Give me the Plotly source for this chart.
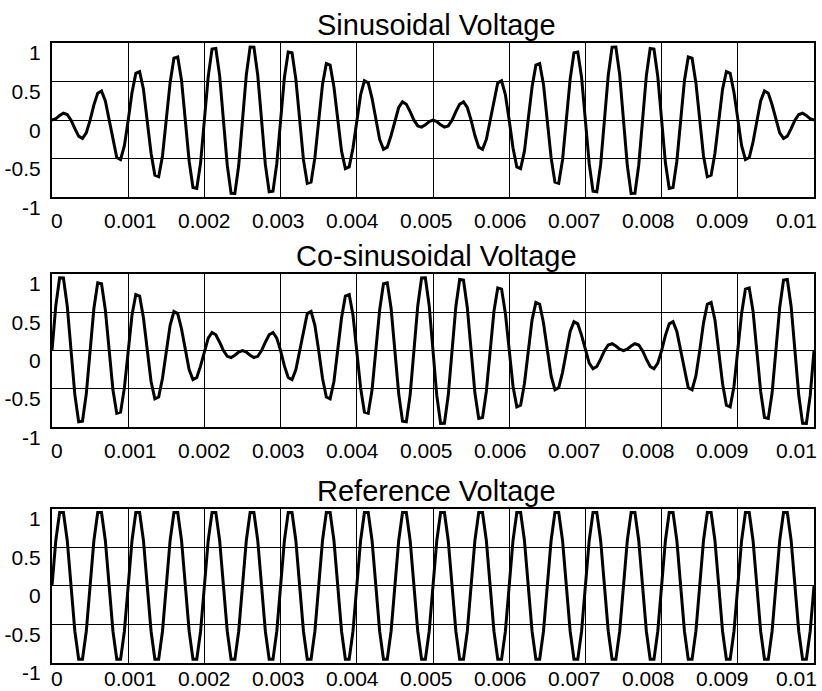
import numpy as np
import plotly.graph_objects as go
from plotly.subplots import make_subplots

# sample times (s): 20 kHz sampling from 0 to 0.01 s
time_s = np.linspace(0.0, 0.01, 201)

sinusoidal_v = [
    0, 0.018, 0.060, 0.090, 0.074, 0, -0.110, -0.207, -0.237, -0.164,
    0, 0.199, 0.350, 0.378, 0.250, 0, -0.283, -0.484, -0.510, -0.330,
    0, 0.360, 0.606, 0.629, 0.402, 0, -0.429, -0.713, -0.733, -0.464,
    0, 0.486, 0.803, 0.819, 0.515, 0, -0.532, -0.873, -0.884, -0.553,
    0, 0.564, 0.921, 0.928, 0.577, 0, -0.583, -0.947, -0.949, -0.588,
    0, 0.588, 0.949, 0.947, 0.583, 0, -0.577, -0.928, -0.921, -0.564,
    0, 0.553, 0.884, 0.873, 0.532, 0, -0.515, -0.819, -0.803, -0.486,
    0, 0.464, 0.733, 0.713, 0.429, 0, -0.402, -0.629, -0.606, -0.360,
    0, 0.330, 0.510, 0.484, 0.283, 0, -0.250, -0.378, -0.350, -0.199,
    0, 0.164, 0.237, 0.207, 0.110, 0, -0.074, -0.090, -0.060, -0.018,
    0, -0.018, -0.060, -0.090, -0.074, 0, 0.110, 0.207, 0.237, 0.164,
    0, -0.199, -0.350, -0.378, -0.250, 0, 0.283, 0.484, 0.510, 0.330,
    0, -0.360, -0.606, -0.629, -0.402, 0, 0.429, 0.713, 0.733, 0.464,
    0, -0.486, -0.803, -0.819, -0.515, 0, 0.532, 0.873, 0.884, 0.553,
    0, -0.564, -0.921, -0.928, -0.577, 0, 0.583, 0.947, 0.949, 0.588,
    0, -0.588, -0.949, -0.947, -0.583, 0, 0.577, 0.928, 0.921, 0.564,
    0, -0.553, -0.884, -0.873, -0.532, 0, 0.515, 0.819, 0.803, 0.486,
    0, -0.464, -0.733, -0.713, -0.429, 0, 0.402, 0.629, 0.606, 0.360,
    0, -0.330, -0.510, -0.484, -0.283, 0, 0.250, 0.378, 0.350, 0.199,
    0, -0.164, -0.237, -0.207, -0.110, 0, 0.074, 0.090, 0.060, 0.018,
    0,
]

cosinusoidal_v = [
    0, 0.588, 0.949, 0.947, 0.583, 0, -0.577, -0.928, -0.921, -0.564,
    0, 0.553, 0.884, 0.873, 0.532, 0, -0.515, -0.819, -0.803, -0.486,
    0, 0.464, 0.733, 0.713, 0.429, 0, -0.402, -0.629, -0.606, -0.360,
    0, 0.330, 0.510, 0.484, 0.283, 0, -0.250, -0.378, -0.350, -0.199,
    0, 0.164, 0.237, 0.207, 0.110, 0, -0.074, -0.090, -0.060, -0.018,
    0, -0.018, -0.060, -0.090, -0.074, 0, 0.110, 0.207, 0.237, 0.164,
    0, -0.199, -0.350, -0.378, -0.250, 0, 0.283, 0.484, 0.510, 0.330,
    0, -0.360, -0.606, -0.629, -0.402, 0, 0.429, 0.713, 0.733, 0.464,
    0, -0.486, -0.803, -0.819, -0.515, 0, 0.532, 0.873, 0.884, 0.553,
    0, -0.564, -0.921, -0.928, -0.577, 0, 0.583, 0.947, 0.949, 0.588,
    0, -0.588, -0.949, -0.947, -0.583, 0, 0.577, 0.928, 0.921, 0.564,
    0, -0.553, -0.884, -0.873, -0.532, 0, 0.515, 0.819, 0.803, 0.486,
    0, -0.464, -0.733, -0.713, -0.429, 0, 0.402, 0.629, 0.606, 0.360,
    0, -0.330, -0.510, -0.484, -0.283, 0, 0.250, 0.378, 0.350, 0.199,
    0, -0.164, -0.237, -0.207, -0.110, 0, 0.074, 0.090, 0.060, 0.018,
    0, 0.018, 0.060, 0.090, 0.074, 0, -0.110, -0.207, -0.237, -0.164,
    0, 0.199, 0.350, 0.378, 0.250, 0, -0.283, -0.484, -0.510, -0.330,
    0, 0.360, 0.606, 0.629, 0.402, 0, -0.429, -0.713, -0.733, -0.464,
    0, 0.486, 0.803, 0.819, 0.515, 0, -0.532, -0.873, -0.884, -0.553,
    0, 0.564, 0.921, 0.928, 0.577, 0, -0.583, -0.947, -0.949, -0.588,
    0,
]

reference_v = [
    0, 0.588, 0.951, 0.951, 0.588, 0, -0.588, -0.951, -0.951, -0.588,
    0, 0.588, 0.951, 0.951, 0.588, 0, -0.588, -0.951, -0.951, -0.588,
    0, 0.588, 0.951, 0.951, 0.588, 0, -0.588, -0.951, -0.951, -0.588,
    0, 0.588, 0.951, 0.951, 0.588, 0, -0.588, -0.951, -0.951, -0.588,
    0, 0.588, 0.951, 0.951, 0.588, 0, -0.588, -0.951, -0.951, -0.588,
    0, 0.588, 0.951, 0.951, 0.588, 0, -0.588, -0.951, -0.951, -0.588,
    0, 0.588, 0.951, 0.951, 0.588, 0, -0.588, -0.951, -0.951, -0.588,
    0, 0.588, 0.951, 0.951, 0.588, 0, -0.588, -0.951, -0.951, -0.588,
    0, 0.588, 0.951, 0.951, 0.588, 0, -0.588, -0.951, -0.951, -0.588,
    0, 0.588, 0.951, 0.951, 0.588, 0, -0.588, -0.951, -0.951, -0.588,
    0, 0.588, 0.951, 0.951, 0.588, 0, -0.588, -0.951, -0.951, -0.588,
    0, 0.588, 0.951, 0.951, 0.588, 0, -0.588, -0.951, -0.951, -0.588,
    0, 0.588, 0.951, 0.951, 0.588, 0, -0.588, -0.951, -0.951, -0.588,
    0, 0.588, 0.951, 0.951, 0.588, 0, -0.588, -0.951, -0.951, -0.588,
    0, 0.588, 0.951, 0.951, 0.588, 0, -0.588, -0.951, -0.951, -0.588,
    0, 0.588, 0.951, 0.951, 0.588, 0, -0.588, -0.951, -0.951, -0.588,
    0, 0.588, 0.951, 0.951, 0.588, 0, -0.588, -0.951, -0.951, -0.588,
    0, 0.588, 0.951, 0.951, 0.588, 0, -0.588, -0.951, -0.951, -0.588,
    0, 0.588, 0.951, 0.951, 0.588, 0, -0.588, -0.951, -0.951, -0.588,
    0, 0.588, 0.951, 0.951, 0.588, 0, -0.588, -0.951, -0.951, -0.588,
    0,
]

panel_titles = ["Sinusoidal Voltage", "Co-sinusoidal Voltage", "Reference Voltage"]
x_tick_vals = [0, 0.001, 0.002, 0.003, 0.004, 0.005, 0.006, 0.007, 0.008, 0.009, 0.01]
x_tick_text = ["0", "0.001", "0.002", "0.003", "0.004", "0.005", "0.006",
               "0.007", "0.008", "0.009", "0.01"]
y_tick_vals = [-1, -0.5, 0, 0.5, 1]
y_tick_text = ["-1", "-0.5", "0", "0.5", "1"]

FONT = "Liberation Sans, Arial, Helvetica, sans-serif"
W, H = 822, 691
ML, MR, MT, MB = 52, 8, 43, 28
plot_w = W - ML - MR
plot_h = H - MT - MB

domains = [
    [0.7511, 1.0],
    [0.3802, 0.6274],
    [0.0, 0.2489],
]
label_shift = [-10, -10, -2]

fig = make_subplots(rows=3, cols=1)
series = [sinusoidal_v, cosinusoidal_v, reference_v]
for i, ys in enumerate(series):
    fig.add_trace(
        go.Scatter(x=time_s, y=ys, mode="lines",
                   line=dict(color="black", width=3), showlegend=False,
                   hoverinfo="skip"),
        row=i + 1, col=1,
    )

annotations = []
for i in range(3):
    ax = "" if i == 0 else str(i + 1)
    fig.layout["xaxis" + ax].update(
        domain=[0, 1], range=[0, 0.01], tickvals=x_tick_vals,
        showticklabels=False, ticks="", showgrid=True, gridcolor="#000000",
        gridwidth=1, zeroline=False, showline=True, mirror=True,
        linecolor="black", linewidth=2,
    )
    fig.layout["yaxis" + ax].update(
        domain=domains[i], range=[-1, 1], tickvals=y_tick_vals,
        ticktext=y_tick_text, ticks="", showgrid=True, gridcolor="#000000",
        gridwidth=1, zeroline=False, showline=True, mirror=True,
        linecolor="black", linewidth=2, ticklabelshift=10,
        ticklabelstandoff=5,
        tickfont=dict(family=FONT, size=21, color="black"),
    )
    # panel title
    annotations.append(dict(
        text=panel_titles[i], xref="paper", x=(436 - ML) / plot_w,
        yref="paper", y=domains[i][1], yanchor="bottom", xanchor="center",
        showarrow=False, yshift=0,
        font=dict(family=FONT, size=29, color="black"),
    ))
    # x tick labels (MATLAB-style spacing)
    for j, lab in enumerate(x_tick_text):
        px = 56.5 + 73.95 * j
        annotations.append(dict(
            text=lab, xref="paper", x=(px - ML) / plot_w,
            yref="paper", y=domains[i][0], yanchor="top", xanchor="center",
            showarrow=False, yshift=label_shift[i],
            font=dict(family=FONT, size=21, color="black"),
        ))

fig.update_layout(
    width=W, height=H,
    margin=dict(l=ML, r=MR, t=MT, b=MB, autoexpand=False),
    paper_bgcolor="white", plot_bgcolor="white",
    font=dict(family=FONT, color="black"),
    annotations=annotations,
    showlegend=False,
)

fig.write_html(
    "out.html",
    config={"displayModeBar": False},
    post_script="document.body.style.margin='0';document.body.style.padding='0';",
)
